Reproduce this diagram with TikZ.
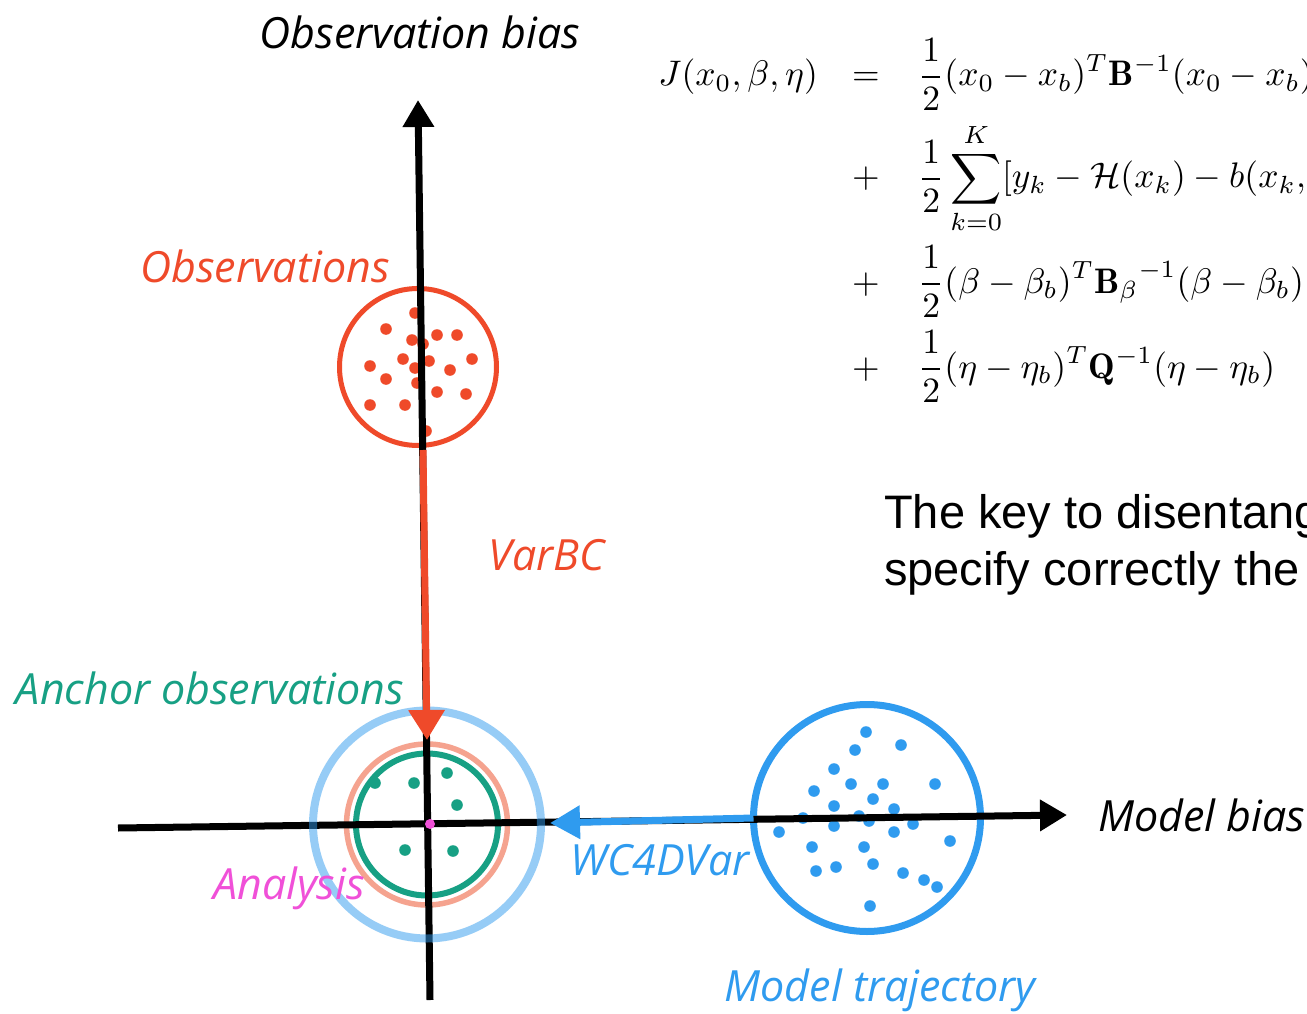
\documentclass[tikz,border=0pt]{standalone}
\usepackage{fontspec}
\usepackage{amsmath}
\usetikzlibrary{arrows.meta}
\newfontfamily\hand{Open Sans}
\newfontfamily\arialf{Liberation Sans}
\definecolor{obsred}{HTML}{EF4A2A}
\definecolor{ancgreen}{HTML}{17A084}
\definecolor{modblue}{HTML}{2F9BEF}
\definecolor{salmon}{HTML}{F5A38F}
\definecolor{anamag}{HTML}{F050D8}
\newcommand{\bigmath}[1]{\scalebox{3.55}{\fontsize{10}{12}\selectfont$\displaystyle #1$}}
\tikzset{
  ring/.style={circle, draw, inner sep=0pt, outer sep=0pt},
  lbl/.style={font=\hand\itshape\fontsize{43}{47}\selectfont, inner sep=0pt},
  eqn/.style={inner sep=0pt},
  axis/.style={line width=7pt, draw=black, -{Triangle[length=27pt,width=30pt]}},
  conn/.style={line width=7pt, -{Triangle[length=30pt,width=35pt]}},
  keytext/.style={anchor=base west, inner sep=0pt, font=\arialf\fontsize{47}{57}\selectfont},
}
\begin{document}
\begin{tikzpicture}[x=1pt,y=-1pt]
\path[use as bounding box] (0,0) rectangle (1307,1014);
\clip (0,0) rectangle (1307,1014);
\fill[white] (0,0) rectangle (1307,1014);
% anchor rings
\node[ring, draw=salmon, line width=5.5pt, minimum size=161pt] (salm) at (427,824.5) {};
\node[ring, draw=ancgreen, line width=6pt, minimum size=142pt] (anchor) at (427,824.5) {};
\foreach \p in {(375,783),(414,783),(447,773),(457,805),(405,850),(453,851)}
  \fill[ancgreen] \p circle[radius=5.8pt];
% observations
\node[ring, draw=obsred, line width=5pt, minimum size=157pt] (obs) at (418,367) {};
\foreach \p in {(415,313),(386,329),(412,340),(423,344),(437,335),(457,335),(403,359),(429,361),(472,359),(370,366),(415,368),(450,370),(386,379),(417,383),(437,392),(466,394),(370,405),(405,405),(426,431)}
  \fill[obsred] \p circle[radius=5.8pt];
% model trajectory
\node[ring, draw=modblue, line width=7pt, minimum size=227pt] (model) at (867,818) {};
\foreach \p in {(866,732),(855,750),(901,745),(834,769),(814,791),(851,784),(883,784),(935,784),(873,799),(834,806),(894,809),(803,818),(859,816),(869,821),(834,826),(913,824),(779,832),(894,832),(950,841),(812,847),(864,847),(873,864),(836,867),(816,871),(903,873),(924,880),(937,887),(870,906)}
  \fill[modblue] \p circle[radius=5.8pt];
% axes
\coordinate (vbot) at (430,1000);
\coordinate (vtop) at (418,100);
\coordinate (hl) at (118,828);
\coordinate (hr) at (1067,815);
\draw[axis] (vbot) -- (vtop);
\draw[axis] (hl) -- (hr);
% outer light blue ring
\node[ring, draw=modblue, draw opacity=0.5, line width=8pt, minimum size=228pt] (outer) at (427,824.5) {};
% connectors
\coordinate (redstart) at (423,450);
\coordinate (redtip) at (427,740);
\draw[conn, obsred] (redstart) -- (redtip);
\coordinate (bluetip) at (550,823);
\draw[conn, modblue, -{Triangle[length=30pt,width=32pt]}] (model.west) -- (bluetip);
% analysis point
\node[circle, fill=anamag, inner sep=0pt, minimum size=10pt] (ana) at (430,824) {};
% labels
\node[lbl, text=black] (tob) at (420,32) {Observation bias};
\node[lbl, text=obsred] (tobs) at (265,266) {Observations};
\node[lbl, text=obsred] (tvar) at (547,555) {VarBC};
\node[lbl, text=ancgreen] (tanc) at (210,688) {Anchor observations};
\node[lbl, text=anamag] (tana) at (289,888) {Analysis};
\node[lbl, text=modblue] (twc) at (660,860) {WC4DVar};
\node[lbl, text=black] (tmb) at (1202,815) {Model bias};
\node[lbl, text=modblue] (tmt) at (880,990) {Model trajectory};
% equation
\node[eqn, anchor=base east] (eql) at (818,86) {\bigmath{J(x_0,\beta,\eta)}};
\node[eqn, anchor=base] (eqs) at (866,86) {\bigmath{=}};
\node[eqn, anchor=base west] (r1) at (918,86) {\bigmath{\frac{1}{2}(x_0-x_b)^T\mathbf{B}^{-1}(x_0-x_b)}};
\node[eqn, anchor=base] (p2) at (866,188) {\bigmath{+}};
\node[eqn, anchor=base west] (r2) at (918,188) {\bigmath{\frac{1}{2}\sum_{k=0}^{K}[y_k-\mathcal{H}(x_k)-b(x_k,\beta)]}};
\node[eqn, anchor=base] (p3) at (866,293) {\bigmath{+}};
\node[eqn, anchor=base west] (r3) at (918,293) {\bigmath{\frac{1}{2}(\beta-\beta_b)^T{\mathbf{B}_\beta}^{-1}(\beta-\beta_b)}};
\node[eqn, anchor=base] (p4) at (866,378) {\bigmath{+}};
\node[eqn, anchor=base west] (r4) at (918,378) {\bigmath{\frac{1}{2}(\eta-\eta_b)^T\mathbf{Q}^{-1}(\eta-\eta_b)}};
% text
\node[keytext] (k1) at (884,528) {The key to disentangle};
\node[keytext] (k2) at (884,585) {specify correctly the};
\end{tikzpicture}
\end{document}
